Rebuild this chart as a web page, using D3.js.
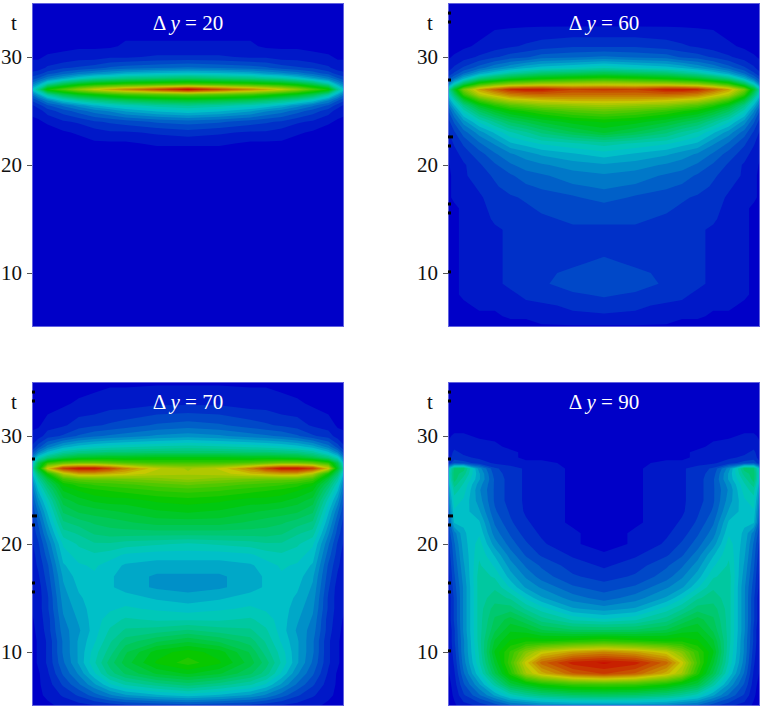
<!DOCTYPE html>
<html>
<head>
<meta charset="utf-8">
<script src="https://cdn.jsdelivr.net/npm/d3@7"></script>
<style>
    html, body { margin: 0; padding: 0; background: #fff; }
    svg text { font-family: "Liberation Serif", serif; font-size: 21px; }
</style>
</head>
<body>
<div id="answer"></div>
<script>
// time rows, top to bottom (denser near the sharp band at t = 27)
const tRows = [35, 33, 31, 30, 29, 28.5, 28, 27.5, 27, 26.5, 26, 25.5, 25, 24, 23, 22, 21, 20, 19, 18, 17, 16, 15, 14, 13, 12, 11, 10, 9, 8, 7, 6, 5];
// columns across the left half, 0 = edge, 0.5 = centre. The pictures are mirror symmetric
const uCols = [0, 0.02, 0.05, 0.1, 0.15, 0.2, 0.25, 0.3, 0.4, 0.5];
const tickValues = [10, 20, 30];
// little black marks on the left edge
const edgeMarksT = [34.07, 33.24, 27.87, 22.6, 21.76, 16.39, 15.56];

const dy20 = [
    [0, 0, 0, 1, 3, 5, 9, 15, 24, 14, 8, 4, 2, 1, 0, 0, 0, 0, 0, 0, 0, 0, 0, 0, 0, 0, 0, 0, 0, 0, 0, 0, 0],
    [0, 0, 0, 1, 3, 6, 11, 20, 32, 20, 11, 6, 3, 1, 0, 0, 0, 0, 0, 0, 0, 0, 0, 0, 0, 0, 0, 0, 0, 0, 0, 0, 0],
    [0, 0, 0, 2, 5, 9, 16, 30, 52, 30, 17, 10, 6, 2, 0, 0, 0, 0, 0, 0, 0, 0, 0, 0, 0, 0, 0, 0, 0, 0, 0, 0, 0],
    [0, 0, 1, 2, 7, 12, 21, 40, 60, 40, 25, 14, 9, 4, 1, 0, 0, 0, 0, 0, 0, 0, 0, 0, 0, 0, 0, 0, 0, 0, 0, 0, 0],
    [0, 0, 1, 3, 8, 15, 26, 46, 68, 46, 30, 18, 12, 5, 2, 0, 0, 0, 0, 0, 0, 0, 0, 0, 0, 0, 0, 0, 0, 0, 0, 0, 0],
    [0, 0, 1, 3, 9, 17, 30, 50, 75, 50, 34, 22, 15, 7, 3, 1, 0, 0, 0, 0, 0, 0, 0, 0, 0, 0, 0, 0, 0, 0, 0, 0, 0],
    [0, 0, 1, 4, 11, 19, 32, 52, 80, 54, 37, 25, 17, 8, 4, 1, 0, 0, 0, 0, 0, 0, 0, 0, 0, 0, 0, 0, 0, 0, 0, 0, 0],
    [0, 0, 2, 4, 12, 21, 34, 54, 84, 57, 40, 27, 20, 9, 4, 1, 0, 0, 0, 0, 0, 0, 0, 0, 0, 0, 0, 0, 0, 0, 0, 0, 0],
    [0, 0, 2, 5, 13, 23, 36, 56, 92, 60, 43, 30, 23, 11, 5, 2, 0, 0, 0, 0, 0, 0, 0, 0, 0, 0, 0, 0, 0, 0, 0, 0, 0],
    [0, 0, 2, 5, 14, 24, 38, 58, 100, 62, 45, 32, 25, 12, 6, 2, 0, 0, 0, 0, 0, 0, 0, 0, 0, 0, 0, 0, 0, 0, 0, 0, 0]
];
const dy60 = [
    [0, 0, 0, 1, 3, 5, 9, 15, 28, 24, 18, 14, 10, 6, 4, 2, 2, 1, 1, 1, 1, 1, 1, 0, 0, 0, 0, 0, 0, 0, 0, 0, 0],
    [0, 0, 0, 2, 5, 8, 14, 26, 45, 36, 28, 22, 17, 11, 7, 5, 3, 3, 2, 2, 2, 1, 1, 1, 1, 1, 1, 1, 1, 1, 1, 0, 0],
    [0, 0, 1, 3, 8, 13, 22, 40, 65, 56, 43, 33, 27, 18, 12, 8, 6, 4, 4, 3, 3, 2, 2, 2, 2, 2, 2, 2, 2, 2, 1, 1, 0],
    [0, 0, 2, 5, 12, 20, 34, 55, 80, 72, 58, 46, 38, 26, 18, 13, 9, 7, 6, 5, 4, 4, 3, 3, 3, 3, 3, 3, 3, 2, 2, 1, 0],
    [0, 1, 3, 7, 16, 25, 40, 62, 88, 78, 66, 54, 45, 32, 23, 17, 13, 10, 8, 7, 6, 5, 5, 4, 4, 4, 4, 4, 4, 3, 2, 1, 0],
    [0, 1, 4, 9, 19, 30, 45, 66, 95, 84, 72, 60, 50, 38, 28, 22, 16, 13, 10, 9, 7, 6, 6, 5, 5, 5, 5, 5, 5, 4, 3, 2, 0],
    [0, 1, 5, 10, 22, 33, 48, 68, 97, 86, 74, 63, 53, 41, 31, 24, 18, 15, 12, 10, 8, 7, 7, 6, 6, 6, 6, 6, 6, 5, 4, 2, 0],
    [0, 1, 6, 12, 24, 36, 50, 70, 97, 87, 76, 66, 56, 44, 35, 26, 20, 16, 13, 11, 9, 8, 7, 7, 6, 6, 7, 7, 7, 6, 4, 3, 1],
    [0, 1, 7, 13, 26, 38, 53, 71, 92, 86, 78, 68, 60, 48, 40, 28, 22, 18, 15, 13, 10, 9, 8, 7, 7, 7, 7, 8, 9, 7, 5, 4, 1],
    [0, 1, 7, 14, 28, 40, 55, 72, 93, 86, 78, 70, 62, 50, 44, 30, 24, 19, 16, 14, 12, 9, 8, 7, 7, 7, 8, 9, 10, 8, 6, 4, 1]
];
const dy70 = [
    [0, 0, 1, 2, 5, 9, 15, 22, 28, 22, 18, 15, 13, 10, 8, 6, 5, 4, 3, 3, 2, 2, 2, 2, 1, 1, 0, 0, 0, 0, 0, 0, 0],
    [0, 0, 1, 3, 9, 16, 26, 40, 45, 36, 30, 26, 23, 18, 14, 11, 9, 7, 6, 5, 4, 3, 3, 3, 3, 2, 2, 2, 2, 1, 1, 1, 0],
    [0, 0, 3, 6, 15, 23, 34, 56, 76, 52, 42, 37, 33, 27, 23, 20, 17, 14, 12, 10, 9, 8, 7, 7, 6, 6, 5, 5, 5, 4, 3, 2, 1],
    [0, 1, 4, 8, 21, 30, 41, 62, 93, 72, 58, 50, 47, 42, 38, 34, 30, 26, 24, 22, 20, 19, 18, 17, 16, 15, 14, 14, 13, 11, 8, 5, 2],
    [0, 2, 6, 11, 24, 33, 45, 64, 98, 80, 62, 54, 50, 45, 41, 36, 32, 29, 27, 25, 24, 23, 22, 21, 20, 19, 20, 20, 20, 17, 13, 8, 3],
    [1, 2, 7, 13, 26, 34, 46, 64, 98, 80, 63, 56, 52, 47, 42, 38, 35, 31, 28, 26, 25, 24, 24, 24, 24, 24, 25, 27, 28, 25, 19, 12, 4],
    [1, 3, 8, 14, 27, 35, 47, 62, 92, 78, 63, 57, 53, 48, 43, 39, 36, 31, 27, 24, 23, 23, 24, 25, 27, 29, 31, 33, 36, 33, 25, 16, 5],
    [1, 3, 9, 15, 28, 35, 47, 60, 84, 76, 64, 58, 54, 48, 44, 40, 36, 30, 25, 22, 21, 21, 24, 26, 29, 32, 36, 40, 42, 38, 29, 19, 6],
    [1, 4, 11, 17, 29, 36, 48, 58, 74, 72, 66, 60, 56, 50, 46, 42, 36, 29, 24, 21, 19, 19, 22, 25, 28, 33, 40, 48, 50, 44, 33, 22, 7],
    [1, 4, 12, 18, 30, 36, 48, 58, 70, 71, 68, 62, 57, 51, 47, 42, 36, 28, 24, 21, 19, 18, 21, 24, 28, 35, 43, 51, 54, 47, 36, 24, 8]
];
const dy90 = [
    [0, 0, 0, 1, 2, 3, 3, 5, 22, 24, 22, 20, 18, 15, 12, 10, 8, 6, 5, 4, 3, 3, 2, 2, 2, 1, 1, 1, 1, 1, 0, 0, 0],
    [0, 0, 0, 2, 4, 5, 6, 10, 35, 36, 36, 33, 30, 27, 25, 23, 15, 13, 12, 11, 10, 9, 8, 8, 8, 7, 7, 6, 5, 4, 3, 2, 1],
    [0, 0, 0, 2, 4, 4, 5, 9, 36, 33, 30, 28, 27, 25, 24, 23, 22, 21, 20, 19, 18, 17, 17, 17, 17, 17, 16, 16, 15, 13, 10, 7, 3],
    [0, 0, 0, 1, 3, 3, 4, 6, 18, 20, 20, 18, 17, 18, 20, 23, 25, 27, 28, 29, 30, 30, 30, 30, 30, 30, 30, 29, 28, 25, 19, 13, 5],
    [0, 0, 0, 1, 2, 2, 3, 4, 8, 9, 10, 10, 10, 10, 11, 13, 15, 18, 22, 25, 28, 31, 33, 36, 38, 40, 44, 47, 44, 40, 30, 20, 8],
    [0, 0, 0, 0, 1, 2, 2, 3, 6, 6, 6, 6, 6, 6, 7, 8, 10, 12, 15, 18, 21, 25, 31, 36, 42, 46, 50, 56, 58, 54, 42, 27, 12],
    [0, 0, 0, 0, 1, 1, 1, 2, 4, 4, 4, 4, 4, 4, 4, 5, 6, 8, 10, 13, 16, 19, 25, 31, 38, 45, 52, 66, 75, 70, 47, 31, 13],
    [0, 0, 0, 0, 1, 1, 1, 2, 3, 3, 3, 3, 3, 3, 3, 3, 4, 5, 7, 10, 12, 16, 20, 27, 33, 41, 52, 74, 87, 78, 52, 34, 15],
    [0, 0, 0, 0, 0, 0, 0, 1, 1, 1, 1, 1, 1, 1, 1, 1, 2, 2, 4, 6, 8, 11, 15, 20, 28, 38, 54, 80, 96, 88, 57, 37, 16],
    [0, 0, 0, 0, 0, 0, 0, 0, 0, 0, 0, 0, 0, 0, 0, 0, 0, 0, 2, 4, 6, 9, 12, 18, 26, 38, 56, 83, 98, 92, 58, 38, 16]
];

function drawPanel(svg, left, top, label, halfCols, hasMarks, hasStub) {
    let size = { w: 312, h: 324 };

    let xScale = d3.scaleLinear().domain([0, 1]).range([0, size.w]);
    let yScale = d3.scaleLinear().domain([35, 5]).range([0, size.h]);

    // mirror the half columns so the grid goes edge to edge
    let cols = halfCols.concat(halfCols.slice(0, -1).reverse());
    let uAll = uCols.concat(uCols.slice(0, -1).reverse().map(function (u) { return 1 - u; }));
    let n = cols.length;
    let m = tRows.length;

    let values = [];
    for (let j = 0; j < m; j++) {
        for (let i = 0; i < n; i++) {
            values.push(cols[i][j]);
        }
    }

    // contour coordinates are grid indices, the grid is not even so map them piece by piece
    let gridX = d3.scaleLinear()
        .domain([0].concat(uAll.map(function (u, i) { return i + 0.5; }), [n]))
        .range([0].concat(uAll.map(function (u) { return xScale(u); }), [size.w]));
    let gridY = d3.scaleLinear()
        .domain([0].concat(tRows.map(function (t, j) { return j + 0.5; }), [m]))
        .range([0].concat(tRows.map(function (t) { return yScale(t); }), [size.h]));

    let path = d3.geoPath(d3.geoTransform({
        point: function (x, y) {
            this.stream.point(gridX(x), gridY(y));
        }
    }));

    let contours = d3.contours()
        .size([n, m])
        .thresholds(d3.range(1.5, 101, 3))(values);

    let g = svg.append("g")
        .attr("transform", "translate(" + left + "," + top + ")");

    g.append("rect")
        .attr("width", size.w)
        .attr("height", size.h)
        .attr("fill", heatColor(0));

    g.selectAll("path.band")
        .data(contours)
        .enter()
        .append("path")
        .attr("class", "band")
        .attr("d", path)
        .attr("fill", function (d) {
            return heatColor(d.value + 1.5);
        });

    // thin pale edge
    g.append("rect")
        .attr("x", 0.5)
        .attr("y", 0.5)
        .attr("width", size.w - 1)
        .attr("height", size.h - 1)
        .attr("fill", "none")
        .attr("stroke", "#8c8ce8")
        .attr("stroke-opacity", 0.7);

    let yAxis = d3.axisLeft(yScale)
        .tickValues(tickValues)
        .tickSize(5)
        .tickPadding(5);

    let axis = g.append("g").call(yAxis);
    axis.select(".domain").remove();
    axis.selectAll("line").attr("stroke", "#555");
    axis.selectAll("text").attr("fill", "#111");

    if (hasMarks) {
        let marks = hasStub ? edgeMarksT.concat([10.1]) : edgeMarksT;
        g.selectAll("rect.mark")
            .data(marks)
            .enter()
            .append("rect")
            .attr("class", "mark")
            .attr("x", 0)
            .attr("y", function (d) { return yScale(d) - 1.5; })
            .attr("width", function (d) { return d === 22.6 ? 5 : 3; })
            .attr("height", 3)
            .attr("fill", "#000");
    }

    g.append("text")
        .attr("x", -18)
        .attr("y", 27)
        .attr("text-anchor", "middle")
        .attr("fill", "#111")
        .text("t");

    let title = g.append("text")
        .attr("x", 156)
        .attr("y", 27)
        .attr("text-anchor", "middle")
        .attr("fill", "#fff");
    title.append("tspan").text("Δ ");
    title.append("tspan").attr("font-style", "italic").text("y");
    title.append("tspan").text(" = " + label);
}

// colours stop at 200, not 255
const heatColor = d3.scaleLinear()
    .domain([0, 25, 50, 75, 100])
    .range(["#0000c8", "#00c8c8", "#00c800", "#c8c800", "#c80000"])
    .clamp(true);

let svg = d3.select("#answer")
    .append("svg")
    .attr("width", 763)
    .attr("height", 708)
    .style("display", "block");

[dy20, dy60, dy70, dy90].forEach(function (p) {
    p.forEach(function (c) {
        if (c.length !== tRows.length) throw new Error("bad column length " + c.length);
    });
});

drawPanel(svg, 32, 3, "20", dy20, false, false);
drawPanel(svg, 448, 3, "60", dy60, true, true);
drawPanel(svg, 32, 382, "70", dy70, true, false);
drawPanel(svg, 448, 382, "90", dy90, true, true);
</script>
</body>
</html>
